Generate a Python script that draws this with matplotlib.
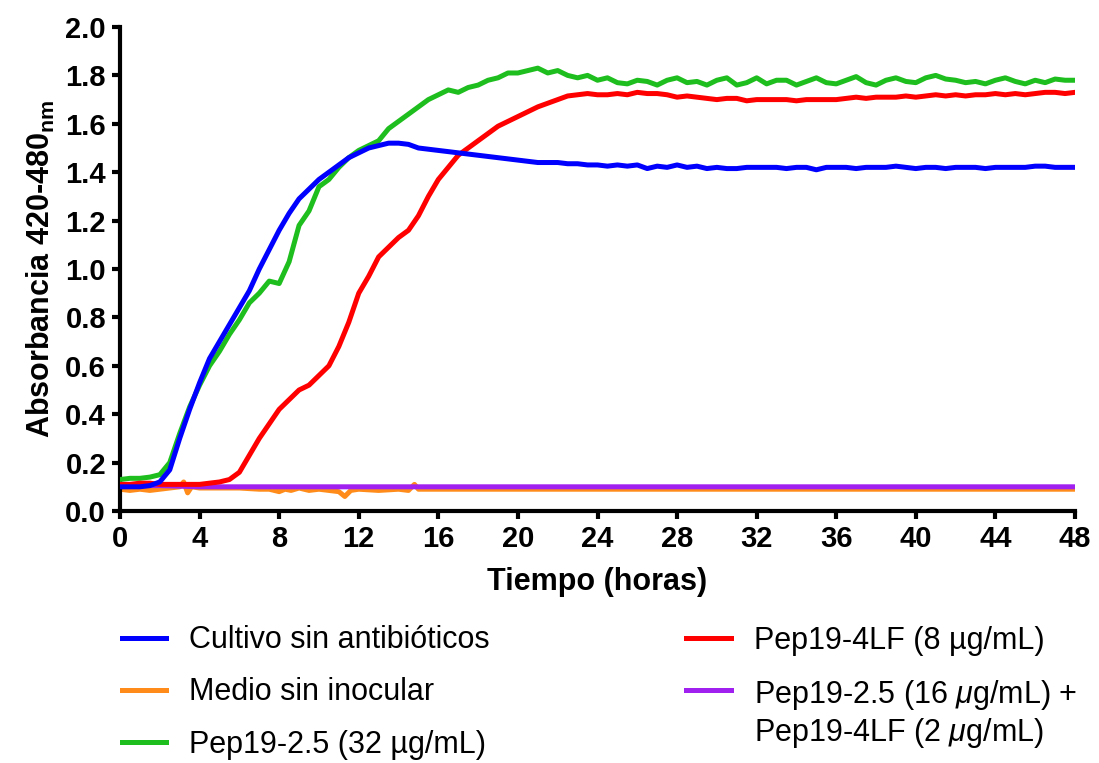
import numpy as np
import matplotlib
matplotlib.use("Agg")
import matplotlib.pyplot as plt

plt.rcParams['font.family'] = ['Liberation Sans', 'DejaVu Sans']
plt.rcParams['mathtext.fontset'] = 'custom'
plt.rcParams['mathtext.rm'] = 'Liberation Sans:bold'
plt.rcParams['mathtext.it'] = 'Liberation Sans:italic'

# tiempo comun (horas) para las tres curvas de crecimiento
horas = np.arange(0, 48.5, 0.5)

cultivo = [0.10, 0.10, 0.10, 0.105, 0.12, 0.17, 0.30, 0.42, 0.53, 0.63, 0.70, 0.77,
           0.84, 0.91, 1.00, 1.08, 1.16, 1.23, 1.29, 1.33, 1.37, 1.40, 1.43, 1.46,
           1.48, 1.50, 1.51, 1.52, 1.52, 1.515, 1.50, 1.495, 1.49, 1.485, 1.48, 1.475,
           1.47, 1.465, 1.46, 1.455, 1.45, 1.445, 1.44, 1.44, 1.44, 1.435, 1.435, 1.43,
           1.43, 1.425, 1.43, 1.425, 1.43, 1.415, 1.425, 1.42, 1.43, 1.42, 1.425, 1.415,
           1.42, 1.415, 1.415, 1.42, 1.42, 1.42, 1.42, 1.415, 1.42, 1.42, 1.41, 1.42,
           1.42, 1.42, 1.415, 1.42, 1.42, 1.42, 1.425, 1.42, 1.415, 1.42, 1.42, 1.415,
           1.42, 1.42, 1.42, 1.415, 1.42, 1.42, 1.42, 1.42, 1.425, 1.425, 1.42, 1.42,
           1.42]

pep25_32 = [0.13, 0.135, 0.135, 0.14, 0.15, 0.20, 0.32, 0.43, 0.52, 0.60, 0.66, 0.73,
            0.79, 0.86, 0.90, 0.95, 0.94, 1.03, 1.18, 1.24, 1.34, 1.37, 1.42, 1.46,
            1.49, 1.51, 1.53, 1.58, 1.61, 1.64, 1.67, 1.70, 1.72, 1.74, 1.73, 1.75,
            1.76, 1.78, 1.79, 1.81, 1.81, 1.82, 1.83, 1.81, 1.82, 1.80, 1.79, 1.80,
            1.78, 1.79, 1.77, 1.765, 1.78, 1.775, 1.76, 1.78, 1.79, 1.77, 1.775, 1.76,
            1.78, 1.79, 1.76, 1.77, 1.79, 1.765, 1.78, 1.78, 1.76, 1.775, 1.79, 1.77,
            1.765, 1.78, 1.795, 1.77, 1.76, 1.78, 1.79, 1.775, 1.77, 1.79, 1.80, 1.785,
            1.78, 1.77, 1.775, 1.765, 1.78, 1.79, 1.775, 1.765, 1.78, 1.77, 1.785, 1.78,
            1.78]

pep4lf_8 = [0.11, 0.11, 0.115, 0.115, 0.11, 0.11, 0.11, 0.11, 0.11, 0.115, 0.12, 0.13,
            0.16, 0.23, 0.30, 0.36, 0.42, 0.46, 0.50, 0.52, 0.56, 0.60, 0.68, 0.78,
            0.90, 0.97, 1.05, 1.09, 1.13, 1.16, 1.22, 1.30, 1.37, 1.42, 1.47, 1.50,
            1.53, 1.56, 1.59, 1.61, 1.63, 1.65, 1.67, 1.685, 1.70, 1.715, 1.72, 1.725,
            1.72, 1.72, 1.725, 1.72, 1.73, 1.725, 1.725, 1.72, 1.71, 1.715, 1.71, 1.705,
            1.70, 1.705, 1.705, 1.695, 1.70, 1.70, 1.70, 1.70, 1.695, 1.70, 1.70, 1.70,
            1.70, 1.705, 1.71, 1.705, 1.71, 1.71, 1.71, 1.715, 1.71, 1.715, 1.72, 1.715,
            1.72, 1.715, 1.72, 1.72, 1.725, 1.72, 1.725, 1.72, 1.725, 1.73, 1.73, 1.725,
            1.73]

# medio sin inocular
t_medio = [0, 0.5, 1, 1.5, 2, 2.5, 3, 3.2, 3.4, 3.6,
           4, 5, 6, 7, 7.5, 8, 8.3, 8.6, 9, 9.5,
           10, 10.5, 11, 11.3, 11.6, 12, 13, 14, 14.5, 14.8,
           15, 16, 20, 24, 28, 32, 36, 40, 44, 48]
medio = [0.09, 0.085, 0.09, 0.085, 0.09, 0.095, 0.10, 0.12, 0.075, 0.10,
         0.095, 0.095, 0.095, 0.09, 0.09, 0.08, 0.09, 0.085, 0.095, 0.085,
         0.09, 0.085, 0.08, 0.06, 0.085, 0.09, 0.085, 0.09, 0.085, 0.11,
         0.09, 0.09, 0.09, 0.09, 0.09, 0.09, 0.09, 0.09, 0.09, 0.09]

# combinacion Pep19-2.5 + Pep19-4LF
t_comb = [0, 1, 2, 4, 8, 12, 16, 20, 24, 28, 32, 36, 40, 44, 48]
comb = [0.11, 0.105, 0.105, 0.10, 0.10, 0.10, 0.10, 0.10, 0.10, 0.10, 0.10, 0.10, 0.10, 0.10, 0.10]

etiquetas = ["Cultivo sin antibióticos", "Medio sin inocular", "Pep19-2.5 (32 µg/mL)",
             "Pep19-4LF (8 µg/mL)", "Pep19-2.5 (16 $\\mu$g/mL) +\nPep19-4LF (2 $\\mu$g/mL)"]

fig = plt.figure(figsize=(10.99, 7.63), dpi=100)
ax = fig.add_axes([120 / 1099, 1 - 511 / 763, (1075 - 120) / 1099, (511 - 27) / 763])

lw = 3.6
h1, = ax.plot(horas, cultivo, color="#0000FF", lw=lw, zorder=6)
h2, = ax.plot(t_medio, medio, color="#FF8C1A", lw=lw, zorder=2)
h3, = ax.plot(horas, pep25_32, color="#1EBE1E", lw=lw, zorder=4)
h4, = ax.plot(horas, pep4lf_8, color="#FF0000", lw=lw, zorder=5)
h5, = ax.plot(t_comb, comb, color="#A020F0", lw=lw, zorder=3)

ax.set_xlim(0, 48)
ax.set_ylim(0, 2.0)
ax.set_xticks(np.arange(0, 49, 4))
ax.set_yticks(np.arange(0, 2.01, 0.2))
ax.set_yticklabels(["%.1f" % v for v in np.arange(0, 2.01, 0.2)])

for s in ["top", "right"]:
    ax.spines[s].set_visible(False)
for s in ["left", "bottom"]:
    ax.spines[s].set_linewidth(3)
ax.tick_params(width=3, length=6, labelsize=21, pad=4)
for lab in ax.get_xticklabels() + ax.get_yticklabels():
    lab.set_fontweight("bold")

ax.set_xlabel("Tiempo (horas)", fontsize=22, fontweight="bold", labelpad=10)
ax.set_ylabel("Absorbancia 420-480$_{\\mathrm{nm}}$", fontsize=22, fontweight="bold", labelpad=6)

fs = 22
leg = fig.legend([h1, h2, h3, h4, h5], etiquetas, ncol=2, loc="upper left",
                 bbox_to_anchor=(94 / 1099, 1 - 598 / 763), frameon=False,
                 fontsize=fs, handlelength=1.45, handletextpad=0.75,
                 columnspacing=6.45, labelspacing=0.72)
# la linea del ultimo elemento va a la altura del primer renglon
lh = leg.legend_handles[4]
lh.set_ydata(np.asarray(lh.get_ydata()) + 0.8 * fs)

fig.savefig("out.png", dpi=100)
